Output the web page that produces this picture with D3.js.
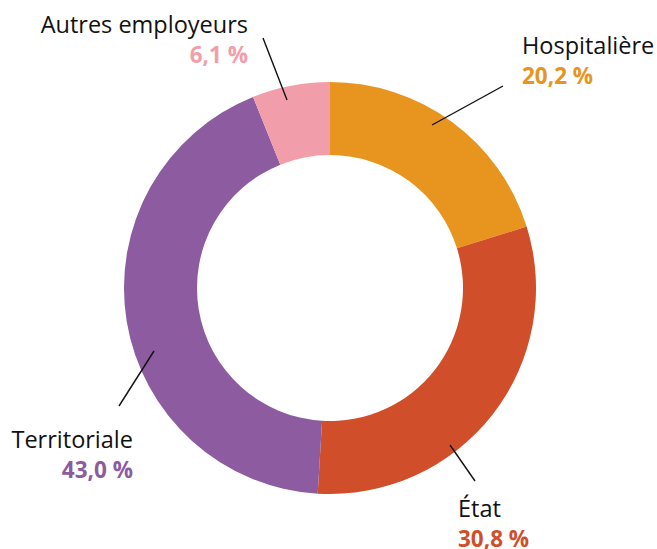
<!DOCTYPE html>
<html>
<head>
<meta charset="utf-8">
<script src="https://cdn.jsdelivr.net/npm/d3@7"></script>
<style>
  body { margin: 0; background: #fff; }
  text { font-family: "Open Sans", "Noto Sans", sans-serif; }
  .name { font-size: 23.5px; fill: #111; }
  .pct { font-size: 22.5px; font-weight: 700; }
</style>
</head>
<body>
<svg id="chart" width="657" height="549"></svg>
<script>
// --- données ---
const categories = ["Hospitalière", "État", "Territoriale", "Autres employeurs"];
const values = [20.2, 30.8, 43.0, 6.1];
const pctLabels = ["20,2 %", "30,8 %", "43,0 %", "6,1 %"];
const colors = ["#E89520", "#D04F2A", "#8C5BA0", "#F29EAA"];

// --- mise en page ---
const W = 657, H = 549;
const cx = 330, cy = 288;
const rOuter = 206, rInner = 133;

// position des étiquettes + traits de rappel (pixels)
const labelLayout = [
  { x: 522, y: 54, anchor: "start", line: [[432, 125], [503, 86]] },
  { x: 458, y: 517, anchor: "start", line: [[450, 445], [475, 481]] },
  { x: 133, y: 448, anchor: "end", line: [[154, 351], [119, 406]] },
  { x: 248, y: 33, anchor: "end", line: [[287, 100], [263, 38]] }
];

const svg = d3.select("#chart");

const pie = d3.pie().sort(null).value(d => d)(values);
const arc = d3.arc().innerRadius(rInner).outerRadius(rOuter);

// anneau
svg.append("g")
  .attr("transform", `translate(${cx},${cy})`)
  .selectAll("path")
  .data(pie)
  .join("path")
    .attr("d", arc)
    .attr("fill", (d, i) => colors[i]);

// traits
svg.append("g")
  .selectAll("line")
  .data(labelLayout)
  .join("line")
    .attr("x1", d => d.line[0][0])
    .attr("y1", d => d.line[0][1])
    .attr("x2", d => d.line[1][0])
    .attr("y2", d => d.line[1][1])
    .attr("stroke", "#111")
    .attr("stroke-width", 1.4);

// étiquettes
const lab = svg.append("g")
  .selectAll("g")
  .data(categories)
  .join("g")
    .attr("transform", (d, i) => `translate(${labelLayout[i].x},${labelLayout[i].y})`)
    .attr("text-anchor", (d, i) => labelLayout[i].anchor);

lab.append("text")
  .attr("class", "name")
  .text(d => d);

lab.append("text")
  .attr("class", "pct")
  .attr("y", 30)
  .attr("fill", (d, i) => colors[i])
  .text((d, i) => pctLabels[i]);
</script>
</body>
</html>
